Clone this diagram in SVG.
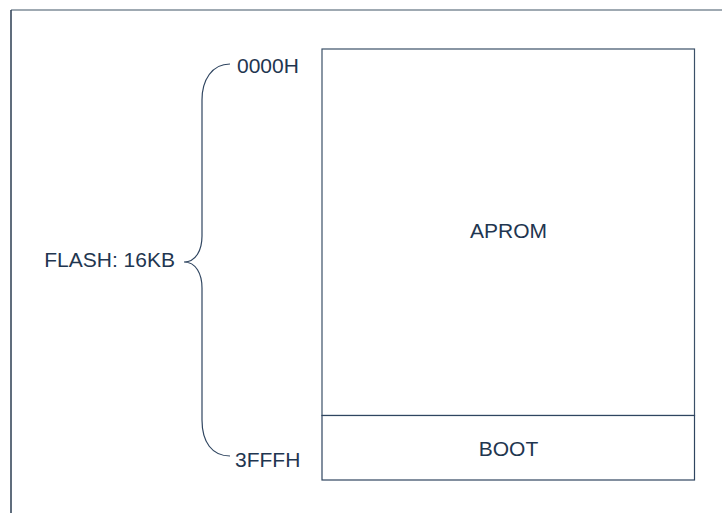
<svg xmlns="http://www.w3.org/2000/svg" width="722" height="513" viewBox="0 0 722 513">
<style>
.t{font-family:"Liberation Sans",Arial,sans-serif;font-size:21px;fill:#1f3650}
.ln{fill:none;stroke:#2f4560;stroke-width:1.2}
</style>
<rect width="722" height="513" fill="#ffffff"/>
<g id="frame">
<line x1="11" y1="10" x2="722" y2="10" stroke="#7f8c99" stroke-width="1.5"/>
<line x1="11" y1="10" x2="11" y2="513" stroke="#2b3d52" stroke-width="1.5"/>
</g>
<g id="aprom">
<rect x="322" y="49" width="372.5" height="366.5" fill="#ffffff" stroke="#3b5068" stroke-width="1.2"/>
<text class="t" x="508.5" y="238" text-anchor="middle">APROM</text>
</g>
<g id="boot">
<rect x="322" y="415.5" width="372.5" height="64.5" fill="#ffffff" stroke="#2f4560" stroke-width="1.2"/>
<text class="t" x="508.5" y="456" text-anchor="middle">BOOT</text>
</g>
<g id="connectors">
<path class="ln" d="M230,64 C212,64 202,80 202,100 L202,236 C202,250 196,262 184,262 C196,262 202,274 202,288 L202,420 C202,442 212,456 230,456"/>
</g>
<g id="labels">
<text class="t" x="237" y="73">0000H</text>
<text class="t" x="235" y="467">3FFFH</text>
<text class="t" x="175" y="267" text-anchor="end">FLASH: 16KB</text>
</g>
</svg>
